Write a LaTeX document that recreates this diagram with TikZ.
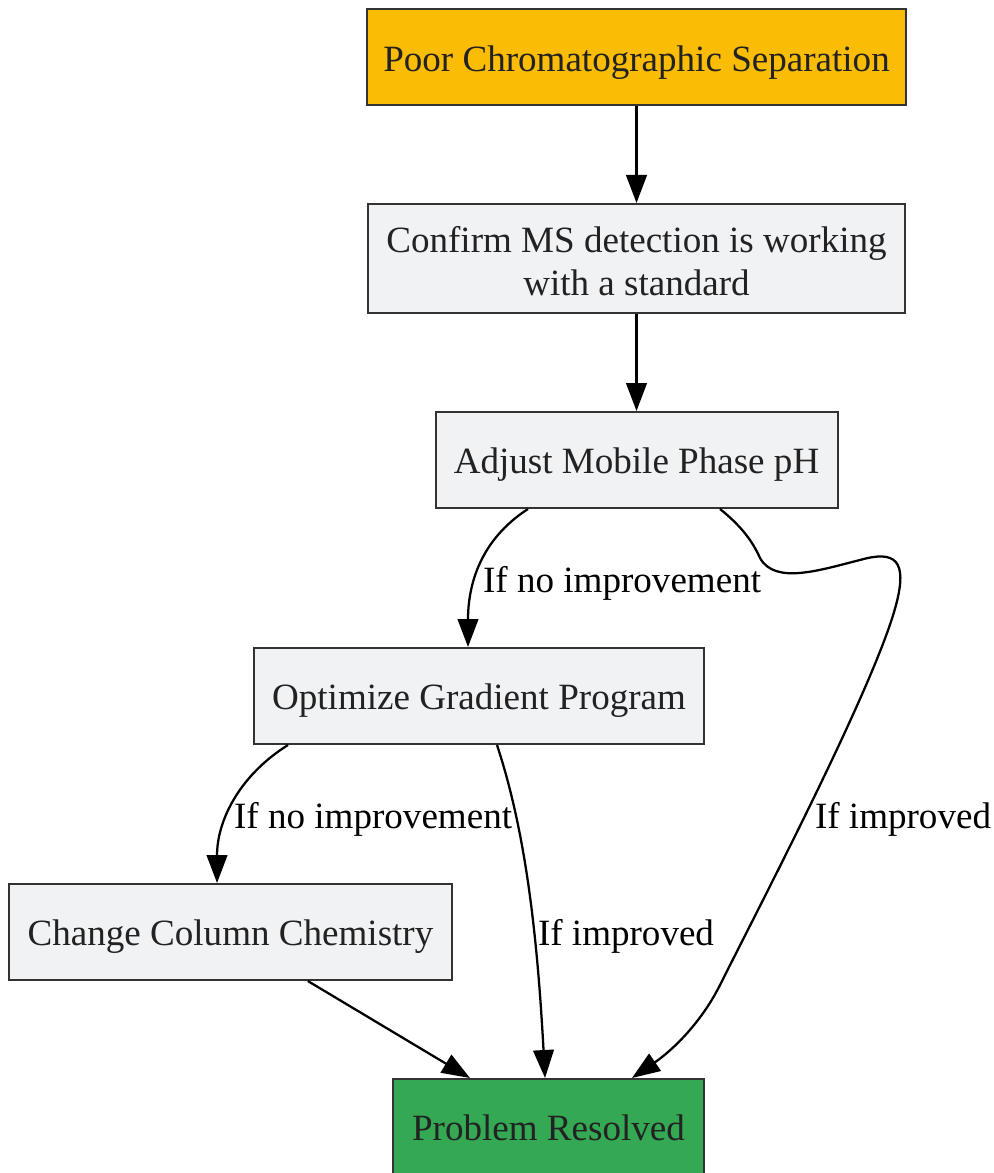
\documentclass[tikz,border=0pt]{standalone}
\usepackage{fontspec}
\setmainfont{Liberation Serif}
\usetikzlibrary{arrows.meta}
\tikzset{>={Triangle[length=21pt,width=15.5pt]}}
\definecolor{boxgray}{HTML}{F1F2F4}
\definecolor{boxline}{HTML}{333333}
\definecolor{boxtext}{HTML}{222222}
\definecolor{startfill}{HTML}{FBBC05}
\definecolor{endfill}{HTML}{34A853}
\tikzset{
  box/.style={draw=boxline, line width=1.5pt, fill=boxgray, text=boxtext, inner sep=0pt, minimum height=72pt, align=center, font=\fontsize{27.8}{32.2}\selectfont},
  oneline/.style={text height=26.5pt, text depth=6pt},
  arr/.style={->, line width=1.7pt, black},
  lbl/.style={font=\fontsize{27.8}{32}\selectfont, text=black, inner sep=0pt}
}

\begin{document}
\begin{tikzpicture}[x=0.75pt,y=-0.75pt]
    \useasboundingbox (0,0) rectangle (993,1173);
    \node[box, oneline, fill=startfill, minimum width=404.25pt] (poor) at (636.5,57.5) {Poor Chromatographic Separation};
    \node[box, minimum width=402.75pt, minimum height=81.75pt] (confirm) at (636.5,258.5) {\rule{0pt}{23pt}Confirm MS detection is working\\with a standard};
    \node[box, oneline, minimum width=301.5pt] (adjust) at (636.5,460) {Adjust Mobile Phase pH};
    \node[box, oneline, minimum width=337.5pt] (optimize) at (479,696) {Optimize Gradient Program};
    \node[box, oneline, minimum width=332.25pt] (change) at (230.5,932) {Change Column Chemistry};
    \node[box, oneline, fill=endfill, minimum width=233.25pt] (resolved) at (548.5,1127) {Problem Resolved};
    \draw[arr] (poor.south) -- (confirm.north);
    \draw[arr] (confirm.south) -- (adjust.north);
    \draw[arr] ([xshift=-81.4pt]adjust.south) .. controls (480,540) and (468,585) .. ([xshift=-8.25pt]optimize.north)
        node[lbl, anchor=west] at (482,583) {If no improvement};
    \draw[arr] ([xshift=62.6pt]adjust.south) .. controls (740,525) and (752,540) .. (760,558)
        .. controls (775,585) and (820,570) .. (860,560)
        .. controls (895,550) and (908,560) .. (896,605)
        .. controls (875,685) and (760,905) .. (720,985)
        .. controls (700,1025) and (670,1052) .. ([xshift=62.6pt]resolved.north);
    \node[lbl] (improvedA) at (903,819) {If improved};
    \draw[arr] ([xshift=-143.25pt]optimize.south) .. controls (240,775) and (217,820) .. ([xshift=-10.1pt]change.north)
        node[lbl, anchor=west] at (233,819) {If no improvement};
    \draw[arr] ([xshift=13.5pt]optimize.south) .. controls (525,830) and (537,930) .. ([xshift=-2.6pt]resolved.north);
    \node[lbl] (improvedB) at (626,936) {If improved};
    \draw[arr] ([xshift=58pt]change.south) -- ([xshift=-58.9pt]resolved.north);
\end{tikzpicture}
\end{document}
